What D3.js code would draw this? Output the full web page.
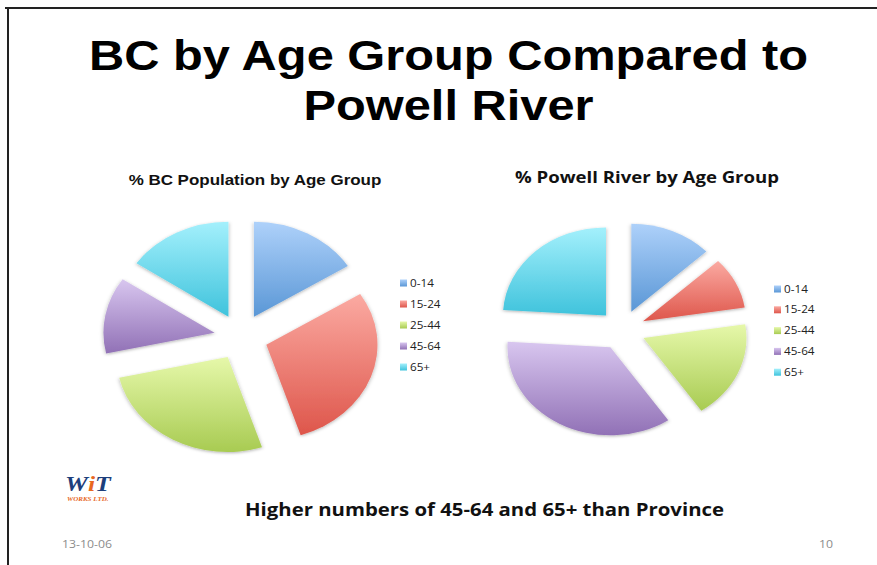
<!DOCTYPE html>
<html>
<head>
<meta charset="utf-8">
<script src="https://cdn.jsdelivr.net/npm/d3@7"></script>
<style>
  body { margin: 0; background: #fff; }
  svg { display: block; }
</style>
</head>
<body>
<script>
// data
const ageGroups = ['0-14', '15-24', '25-44', '45-64', '65+'];
const bcShare = [16, 29, 26.5, 13, 15.5];
const powellShare = [13, 9.5, 18, 35.5, 24];
const titleLines = ['BC by Age Group Compared to', 'Powell River'];
const bcTitle = '% BC Population by Age Group';
const powellTitle = '% Powell River by Age Group';
const note = 'Higher numbers of 45-64 and 65+ than Province';

// the slide is stretched sideways, so draw everything through one x scale
const W = 877, H = 565, SX = 1.17;
const ux = px => px / SX;

const palette = [
  { top: '#aed1fa', bottom: '#5a97d6' },
  { top: '#fbaaa2', bottom: '#de564b' },
  { top: '#e6f8aa', bottom: '#a8cb52' },
  { top: '#d8c6ef', bottom: '#9171b6' },
  { top: '#a4f0fc', bottom: '#3fc3dc' }
];

let svg = d3.select('body').append('svg')
  .attr('width', W)
  .attr('height', H);

let defs = svg.append('defs');
palette.forEach((c, i) => {
  let g = defs.append('linearGradient')
    .attr('id', 'grad' + i)
    .attr('x1', 0).attr('y1', 0).attr('x2', 0).attr('y2', 1);
  g.append('stop').attr('offset', '0%').attr('stop-color', c.top);
  g.append('stop').attr('offset', '100%').attr('stop-color', c.bottom);
});
defs.append('filter')
  .attr('id', 'shade')
  .attr('x', '-20%').attr('y', '-20%').attr('width', '140%').attr('height', '140%')
  .append('feDropShadow')
    .attr('dx', 0).attr('dy', 1)
    .attr('stdDeviation', 1.6)
    .attr('flood-color', '#000')
    .attr('flood-opacity', 0.3);

// slide frame (only top and left edges show)
svg.append('line')
  .attr('x1', 5).attr('x2', W).attr('y1', 8).attr('y2', 8)
  .attr('stroke', '#222').attr('stroke-width', 2);
svg.append('line')
  .attr('x1', 8).attr('x2', 8).attr('y1', 8).attr('y2', H)
  .attr('stroke', '#222').attr('stroke-width', 2);

let slide = svg.append('g').attr('transform', `scale(${SX},1)`);

// title
slide.selectAll('.title')
  .data(titleLines)
  .enter()
    .append('text')
    .classed('title', true)
    .attr('x', (d, i) => ux(i ? 448.5 : 448.5))
    .attr('y', (d, i) => i ? 120 : 70)
    .attr('text-anchor', 'middle')
    .attr('font-family', 'Liberation Sans, Arial, sans-serif')
    .attr('font-weight', 'bold')
    .attr('font-size', 41.7)
    .attr('fill', '#000')
    .text(d => d);

const pie = d3.pie().sort(null).value(d => d);

// one exploded pie with its legend
const drawPie = (params) => {
  let arc = d3.arc().innerRadius(0).outerRadius(params.r);
  let g = slide.append('g')
    .attr('transform', `translate(${ux(params.cx)},${params.cy})`);

  g.selectAll('.slice')
    .data(pie(params.values))
    .enter()
      .append('path')
      .classed('slice', true)
      .attr('d', arc)
      .attr('transform', d => {
        let mid = (d.startAngle + d.endAngle) / 2;
        return `translate(${Math.sin(mid) * params.explode},${-Math.cos(mid) * params.explode})`;
      })
      .attr('fill', (d, i) => `url(#grad${i})`)
      .attr('filter', 'url(#shade)');

  let legend = slide.append('g');
  let rows = legend.selectAll('.key')
    .data(ageGroups)
    .enter()
      .append('g')
      .classed('key', true)
      .attr('transform', (d, i) => `translate(${ux(params.lx)},${params.ly + i * params.step})`);
  rows.append('rect')
    .attr('x', 0).attr('y', -3.5)
    .attr('width', ux(7)).attr('height', 7)
    .attr('fill', (d, i) => `url(#grad${i})`);
  rows.append('text')
    .attr('x', ux(10))
    .attr('y', 3.5)
    .attr('font-family', 'Open Sans, sans-serif')
    .attr('font-size', 10)
    .attr('fill', '#222')
    .text(d => d);
};

drawPie({ values: bcShare, cx: 241, cy: 337, r: 95, explode: 23, lx: 400, ly: 283, step: 21 });
drawPie({ values: powellShare, cx: 622, cy: 330, r: 88, explode: 20, lx: 774, ly: 289, step: 20.8 });

// chart titles
slide.append('text')
  .attr('x', ux(255)).attr('y', 185)
  .attr('text-anchor', 'middle')
  .attr('font-family', 'Liberation Sans, Arial, sans-serif')
  .attr('font-weight', 'bold')
  .attr('font-size', 14.5)
  .attr('fill', '#111')
  .text(bcTitle);
slide.append('text')
  .attr('x', ux(515)).attr('y', 183)
  .attr('font-family', 'Open Sans, sans-serif')
  .attr('font-weight', 'bold')
  .attr('font-size', 15.5)
  .attr('textLength', ux(264))
  .attr('lengthAdjust', 'spacingAndGlyphs')
  .attr('fill', '#111')
  .text(powellTitle);

// bottom note
slide.append('text')
  .attr('x', ux(245)).attr('y', 516)
  .attr('font-family', 'Open Sans, sans-serif')
  .attr('font-weight', 'bold')
  .attr('font-size', 17.5)
  .attr('textLength', ux(479))
  .attr('lengthAdjust', 'spacingAndGlyphs')
  .attr('fill', '#111')
  .text(note);

// logo
let logo = slide.append('text')
  .attr('x', ux(65)).attr('y', 491)
  .attr('font-family', 'Liberation Serif, serif')
  .attr('font-weight', 'bold')
  .attr('font-style', 'italic')
  .attr('font-size', 22);
logo.append('tspan').attr('fill', '#1d3f7c').text('W');
logo.append('tspan').attr('fill', '#e8681f').text('i');
logo.append('tspan').attr('fill', '#1d3f7c').text('T');
slide.append('text')
  .attr('x', ux(67)).attr('y', 501)
  .attr('font-family', 'Liberation Serif, serif')
  .attr('font-weight', 'bold')
  .attr('font-style', 'italic')
  .attr('font-size', 6)
  .attr('fill', '#e8681f')
  .text('WORKS LTD.');

// footer
slide.append('text')
  .attr('x', ux(62)).attr('y', 548)
  .attr('font-family', 'Open Sans, sans-serif')
  .attr('font-size', 10.5)
  .attr('fill', '#8c8c8c')
  .text('13-10-06');
slide.append('text')
  .attr('x', ux(833)).attr('y', 548)
  .attr('text-anchor', 'end')
  .attr('font-family', 'Open Sans, sans-serif')
  .attr('font-size', 10.5)
  .attr('fill', '#8c8c8c')
  .text('10');
</script>
</body>
</html>
